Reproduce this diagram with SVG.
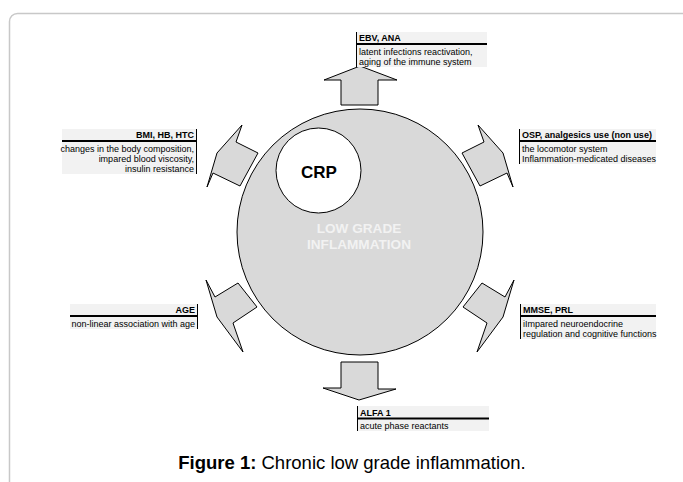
<svg xmlns="http://www.w3.org/2000/svg" width="683" height="482" viewBox="0 0 683 482">
<style>
.frame{fill:none;stroke:#c8c8c8;stroke-width:1.5}
.shape{fill:#d9d9d9;stroke:#000;stroke-width:1}
.box{fill:#f2f2f2}
.rule{stroke:#000;stroke-width:2}
.vline{stroke:#000;stroke-width:1}
.hd{font-family:"Liberation Sans",Arial,sans-serif;font-size:9px;font-weight:bold;fill:#000}
.bd{font-family:"Liberation Sans",Arial,sans-serif;font-size:9px;fill:#000}
.end{text-anchor:end}
</style>
<rect class="frame" x="9.5" y="13.5" width="720" height="520" rx="8"/>

<g id="inflammation">
  <circle class="shape" cx="360" cy="232" r="123"/>
  <text x="359" y="233.3" text-anchor="middle" font-family="Liberation Sans,Arial,sans-serif" font-size="13.6" font-weight="bold" fill="#f2f2f2">LOW GRADE</text>
  <text x="359" y="249" text-anchor="middle" font-family="Liberation Sans,Arial,sans-serif" font-size="13.6" font-weight="bold" fill="#f2f2f2">INFLAMMATION</text>
</g>
<g id="crp">
  <circle cx="318.5" cy="170.5" r="42.5" fill="#fff" stroke="#000" stroke-width="1"/>
  <text x="319" y="177.5" text-anchor="middle" font-family="Liberation Sans,Arial,sans-serif" font-size="17" font-weight="bold" fill="#000">CRP</text>
</g>

<g id="connectors">
  <polygon class="shape" points="341,105 378,105 378,80 397,80 360,66 324,80 341,80"/>
  <polygon class="shape" points="341,362 378,362 378,389 396,389 359,400 323,388 341,388"/>
  <polygon class="shape" points="478,125 503,153 513,187 507,173 480,186 462,153 484,142"/>
  <polygon class="shape" points="242,125 217,153 207,187 213,173 240,186 258,153 236,142"/>
  <polygon class="shape" points="206,280 215,297 238,283 257,307 233,323 243,352 217,317"/>
  <polygon class="shape" points="514,280 505,297 482,283 463,307 487,323 477,352 503,317"/>
</g>

<g id="ebv">
  <rect class="box" x="356" y="32" width="131" height="35"/>
  <line class="rule" x1="356" y1="44" x2="487" y2="44"/>
  <line class="vline" x1="356.5" y1="32" x2="356.5" y2="67"/>
  <text class="hd" x="359" y="41">EBV, ANA</text>
  <text class="bd" x="359" y="54.5">latent infections reactivation,</text>
  <text class="bd" x="359" y="64.8">aging of the immune system</text>
</g>

<g id="osp">
  <rect class="box" x="519" y="129" width="137" height="35"/>
  <line class="rule" x1="519" y1="141" x2="656" y2="141"/>
  <line class="vline" x1="519.5" y1="129" x2="519.5" y2="164"/>
  <text class="hd" x="522" y="138">OSP, analgesics use (non use)</text>
  <text class="bd" x="522" y="151.5">the locomotor system</text>
  <text class="bd" x="522" y="161.8">Inflammation-medicated diseases</text>
</g>

<g id="bmi">
  <rect class="box" x="62" y="129" width="135" height="45"/>
  <line class="rule" x1="62" y1="141" x2="197" y2="141"/>
  <line class="vline" x1="196.5" y1="129" x2="196.5" y2="174"/>
  <text class="hd end" x="194" y="138">BMI, HB, HTC</text>
  <text class="bd end" x="194" y="151.5">changes in the body composition,</text>
  <text class="bd end" x="194" y="161.8">impared blood viscosity,</text>
  <text class="bd end" x="194" y="172.1">insulin resistance</text>
</g>

<g id="age">
  <rect class="box" x="70" y="304" width="128" height="25"/>
  <line class="rule" x1="70" y1="316" x2="198" y2="316"/>
  <line class="vline" x1="197.5" y1="304" x2="197.5" y2="329"/>
  <text class="hd end" x="195" y="313">AGE</text>
  <text class="bd end" x="195" y="326.5">non-linear association with age</text>
</g>

<g id="mmse">
  <rect class="box" x="520" y="304" width="136" height="35"/>
  <line class="rule" x1="520" y1="316" x2="656" y2="316"/>
  <line class="vline" x1="520.5" y1="304" x2="520.5" y2="339"/>
  <text class="hd" x="523" y="313">MMSE, PRL</text>
  <text class="bd" x="523" y="326.5">iImpared neuroendocrine</text>
  <text class="bd" x="523" y="336.8">regulation and cognitive functions</text>
</g>

<g id="alfa">
  <rect class="box" x="357" y="406" width="132" height="25"/>
  <line class="rule" x1="357" y1="418.5" x2="489" y2="418.5"/>
  <line class="vline" x1="357.5" y1="406" x2="357.5" y2="431"/>
  <text class="hd" x="360" y="415.5">ALFA 1</text>
  <text class="bd" x="360" y="428.5">acute phase reactants</text>
</g>

<text x="352" y="469" text-anchor="middle" font-family="Liberation Sans,Arial,sans-serif" font-size="18.5" fill="#000"><tspan font-weight="bold">Figure 1:</tspan> Chronic low grade inflammation.</text>
</svg>
